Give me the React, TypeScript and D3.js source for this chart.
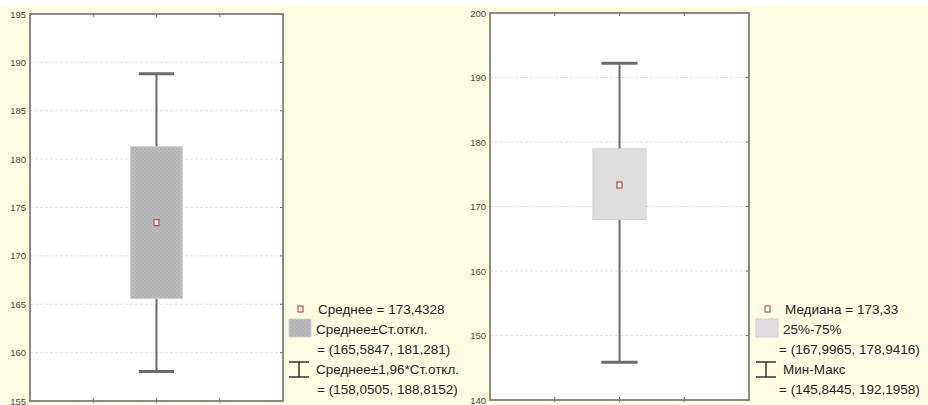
import React from 'react';
import * as d3 from 'd3';

// values
const leftDomain = [155, 195];
const leftTicks = [155, 160, 165, 170, 175, 180, 185, 190, 195];
const leftStats = [158.0505, 165.5847, 173.4328, 181.281, 188.8152]; // low, box low, centre, box high, high
const leftLegend = ['Среднее = 173,4328', 'Среднее±Ст.откл.', '= (165,5847, 181,281)', 'Среднее±1,96*Ст.откл.', '= (158,0505, 188,8152)'];

const rightDomain = [140, 200];
const rightTicks = [140, 150, 160, 170, 180, 190, 200];
const rightStats = [145.8445, 167.9965, 173.33, 178.9416, 192.1958];
const rightLegend = ['Медиана = 173,33', '25%-75%', '= (167,9965, 178,9416)', 'Мин-Макс', '= (145,8445, 192,1958)'];

const xTicks = [1, 2, 3];

interface PanelProps {
  left: number;
  right: number;
  top: number;
  bottom: number;
  domain: number[];
  ticks: number[];
  stats: number[];
  legend: string[];
  boxFill: string;
  legendX: number;
  valueIndent: number;
}

const Panel = ({ left, right, top, bottom, domain, ticks, stats, legend, boxFill, legendX, valueIndent }: PanelProps) => {
  const y = d3.scaleLinear().domain(domain).range([bottom, top]);
  const x = d3.scaleLinear().domain([0, 4]).range([left, right]);
  const [lo, q1, mid, q3, hi] = stats;
  const cx = x(2);
  const legendFont = { fontFamily: 'Liberation Sans, Arial, sans-serif', fontSize: 13.5, fill: '#1e1e1e' };

  return (
    <g>
      <rect x={left} y={top} width={right - left} height={bottom - top} fill="#fff" />
      {/* grid */}
      {ticks.map(t => (
        <line key={'g' + t} x1={left} x2={right} y1={y(t)} y2={y(t)} stroke="#dcdcdc" strokeDasharray="3,2" />
      ))}
      {/* y labels */}
      {ticks.map(t => (
        <text key={'l' + t} x={left - 4} y={y(t) + 3.5} textAnchor="end"
          style={{ fontFamily: 'Liberation Sans Narrow, Liberation Sans, sans-serif', fontSize: 9.5, fill: '#4a4a4a' }}>
          {t}
        </text>
      ))}
      {/* right-side ticks */}
      {ticks.map(t => (
        <line key={'r' + t} x1={right - 3} x2={right} y1={y(t)} y2={y(t)} stroke="#777" />
      ))}
      {/* top and bottom ticks */}
      {xTicks.map(t => (
        <g key={'x' + t}>
          <line x1={x(t)} x2={x(t)} y1={top - 1} y2={top + 3} stroke="#666" />
          <line x1={x(t)} x2={x(t)} y1={bottom - 3} y2={bottom + 2} stroke="#666" />
        </g>
      ))}
      {/* whiskers */}
      <line x1={cx} x2={cx} y1={y(hi)} y2={y(lo)} stroke="#6b6b6b" strokeWidth={2} />
      <line x1={x(2 - 0.28)} x2={x(2 + 0.28)} y1={y(hi)} y2={y(hi)} stroke="#6b6b6b" strokeWidth={3} />
      <line x1={x(2 - 0.28)} x2={x(2 + 0.28)} y1={y(lo)} y2={y(lo)} stroke="#6b6b6b" strokeWidth={3} />
      {/* box */}
      <rect x={x(2 - 0.41)} y={y(q3)} width={x(2 + 0.41) - x(2 - 0.41)} height={y(q1) - y(q3)}
        fill={boxFill} stroke="#cfcfcf" strokeWidth={1} />
      {/* centre marker */}
      <rect x={cx - 2.5} y={y(mid) - 3} width={5} height={6} fill="#fff" stroke="#c0504d" strokeWidth={1.3} />
      {/* frame */}
      <rect x={left} y={top} width={right - left} height={bottom - top} fill="none" stroke="#7f7f7f" strokeWidth={1.8} />

      {/* legend */}
      <rect x={legendX + 9} y={306} width={5} height={6} fill="#fff" stroke="#c0504d" strokeWidth={1.2} />
      <text x={legendX + 29} y={314} style={legendFont}>{legend[0]}</text>
      <rect x={legendX} y={319} width={22} height={18} fill={boxFill} stroke="#d0d0d0" />
      <text x={legendX + 27} y={334} style={legendFont}>{legend[1]}</text>
      <text x={legendX + valueIndent} y={354} style={legendFont}>{legend[2]}</text>
      <line x1={legendX + 10} x2={legendX + 10} y1={362} y2={377} stroke="#333" strokeWidth={1.5} />
      <line x1={legendX} x2={legendX + 20} y1={362} y2={362} stroke="#333" strokeWidth={1.5} />
      <line x1={legendX} x2={legendX + 20} y1={377} y2={377} stroke="#333" strokeWidth={1.5} />
      <text x={legendX + 27} y={374} style={legendFont}>{legend[3]}</text>
      <text x={legendX + valueIndent} y={394} style={legendFont}>{legend[4]}</text>
    </g>
  );
};

const App = () => {
  return (
    <div>
      <style>{'body{margin:0}'}</style>
      <svg width={928} height={405} style={{ display: 'block' }}>
        <defs>
          <pattern id="hatch" width={4} height={4} patternUnits="userSpaceOnUse">
            <rect width={4} height={4} fill="#bcbcbc" />
            <rect width={2} height={2} fill="#b3b3b3" />
            <rect x={2} y={2} width={2} height={2} fill="#b3b3b3" />
          </pattern>
        </defs>
        <rect width={928} height={405} fill="#fffee2" />
        <rect width={928} height={5} fill="#fff" />
        <Panel left={30} right={283} top={14} bottom={401} domain={leftDomain} ticks={leftTicks} stats={leftStats}
          legend={leftLegend} boxFill="url(#hatch)" legendX={289} valueIndent={28} />
        <Panel left={490} right={749} top={13} bottom={400} domain={rightDomain} ticks={rightTicks} stats={rightStats}
          legend={rightLegend} boxFill="#dedede" legendX={756} valueIndent={23} />
      </svg>
    </div>
  );
};

export default App;
